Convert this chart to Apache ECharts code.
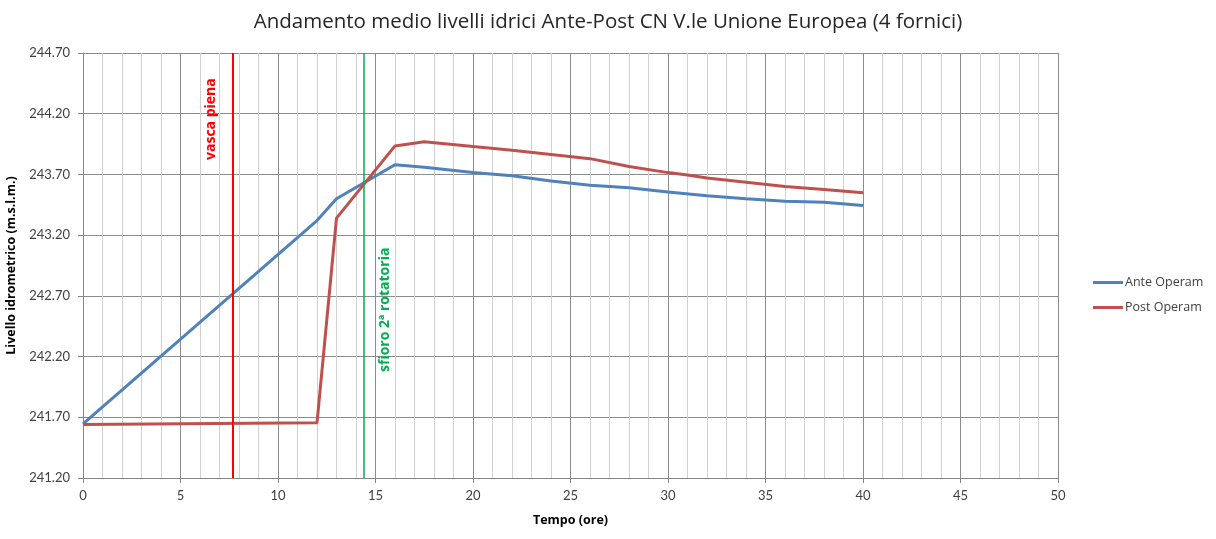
<html>
  <head>
    <script src="https://cdn.jsdelivr.net/npm/echarts@6.0.0/dist/echarts.min.js"></script>
    <title>Andamento medio livelli idrici</title>
  </head>
  <body style="margin:0; background-color:#ffffff;">
    <div id="chart" style="width:1216px; height:539px;"></div>
    <script>
      // ore / livello (m s.l.m.)
      const anteHours = [0, 12, 13, 16, 17.5, 20, 22, 24, 26, 28, 30, 32, 34, 36, 38, 40];
      const anteLevels = [241.645, 243.32, 243.50, 243.78, 243.76, 243.715, 243.69, 243.645, 243.61, 243.59, 243.555, 243.525, 243.50, 243.48, 243.47, 243.445];
      const postHours = [0, 12, 13, 16, 17.5, 20, 22, 24, 26, 28, 30, 31, 32, 34, 36, 38, 40];
      const postLevels = [241.64, 241.655, 243.34, 243.935, 243.97, 243.93, 243.90, 243.865, 243.83, 243.765, 243.715, 243.695, 243.67, 243.635, 243.60, 243.575, 243.55];
      const seriesNames = ['Ante Operam', 'Post Operam'];
      const markerHours = [7.7, 14.4];
      const markerLabels = ['vasca piena', 'sfioro 2ª rotatoria'];

      const font = '"Open Sans", Lato, sans-serif';
      const labelFont = 'Lato, "Open Sans", sans-serif';
      const blue = '#4f81bd';
      const red = '#c0504d';

      const chart = echarts.init(document.getElementById('chart'));

      const option = {
        backgroundColor: '#ffffff',
        animation: false,
        textStyle: { fontFamily: font },
        title: {
          text: 'Andamento medio livelli idrici Ante-Post CN V.le Unione Europea (4 fornici)',
          left: 'center',
          top: 7,
          textStyle: { fontFamily: font, fontSize: 20.5, fontWeight: 'normal', color: '#262626' }
        },
        legend: {
          orient: 'vertical',
          left: 1088,
          top: 271,
          itemWidth: 30,
          itemHeight: 3,
          itemGap: 12,
          icon: 'rect',
          textStyle: { fontFamily: font, fontSize: 12.5, color: '#404040', padding: [0, 0, 0, -3] },
          data: seriesNames
        },
        grid: { left: 83, right: 158, top: 53, bottom: 61, outerBoundsMode: 'none', containLabel: false },
        xAxis: {
          type: 'value',
          min: 0,
          max: 50,
          interval: 5,
          name: 'Tempo (ore)',
          nameLocation: 'middle',
          nameGap: 36,
          nameTextStyle: { fontFamily: font, fontSize: 12.5, fontWeight: 'bold', color: '#000' },
          axisLine: { lineStyle: { color: '#868686' } },
          axisTick: { show: true, lineStyle: { color: '#868686' } },
          axisLabel: { fontFamily: labelFont, fontSize: 13, color: '#404040', margin: 11 },
          splitLine: { show: true, lineStyle: { color: '#8c8c8c', width: 1 } },
          minorTick: { show: false, splitNumber: 5 },
          minorSplitLine: { show: true, lineStyle: { color: '#d0d0d0', width: 1 } }
        },
        yAxis: {
          type: 'value',
          min: 241.2,
          max: 244.7,
          interval: 0.5,
          name: 'Livello idrometrico (m.s.l.m.)',
          nameLocation: 'middle',
          nameGap: 57,
          nameTextStyle: { fontFamily: font, fontSize: 12.5, fontWeight: 'bold', color: '#000' },
          axisLine: { show: true, lineStyle: { color: '#868686' } },
          axisTick: { show: true, lineStyle: { color: '#868686' } },
          axisLabel: { fontFamily: labelFont, fontSize: 13, color: '#404040', margin: 13, formatter: v => v.toFixed(2) },
          splitLine: { show: true, lineStyle: { color: '#8c8c8c', width: 1 } }
        },
        series: [
          {
            name: seriesNames[0],
            type: 'line',
            symbol: 'none',
            lineStyle: { color: blue, width: 3 },
            itemStyle: { color: blue },
            data: anteHours.map((h, i) => [h, anteLevels[i]]),
            markLine: {
              silent: true,
              symbol: 'none',
              label: { show: false },
              data: [
                { xAxis: markerHours[0], lineStyle: { color: '#ff0000', width: 2, type: 'solid' } },
                { xAxis: markerHours[1], lineStyle: { color: '#00b050', width: 1.5, type: 'solid' } }
              ]
            },
            z: 3
          },
          {
            name: seriesNames[1],
            type: 'line',
            symbol: 'none',
            lineStyle: { color: red, width: 3 },
            itemStyle: { color: red },
            data: postHours.map((h, i) => [h, postLevels[i]]),
            z: 4
          }
        ]
      };

      chart.setOption(option);

      // rotated annotation labels beside the marker lines
      const topPx = chart.convertToPixel({ yAxisIndex: 0 }, 244.7);
      const botPx = chart.convertToPixel({ yAxisIndex: 0 }, 241.2);
      const x0 = chart.convertToPixel({ xAxisIndex: 0 }, markerHours[0]);
      const x1 = chart.convertToPixel({ xAxisIndex: 0 }, markerHours[1]);
      chart.setOption({
        graphic: [
          {
            type: 'text',
            x: x0 - 15,
            y: topPx + 107,
            rotation: Math.PI / 2,
            style: {
              text: markerLabels[0],
              fill: '#ff0000',
              font: 'bold 14px ' + font,
              align: 'left',
              verticalAlign: 'bottom'
            }
          },
          {
            type: 'text',
            x: x1 + 14,
            y: botPx - 106,
            rotation: Math.PI / 2,
            style: {
              text: markerLabels[1],
              fill: '#00b050',
              font: 'bold 14px ' + font,
              align: 'left',
              verticalAlign: 'top'
            }
          }
        ]
      });
    </script>
  </body>
</html>
